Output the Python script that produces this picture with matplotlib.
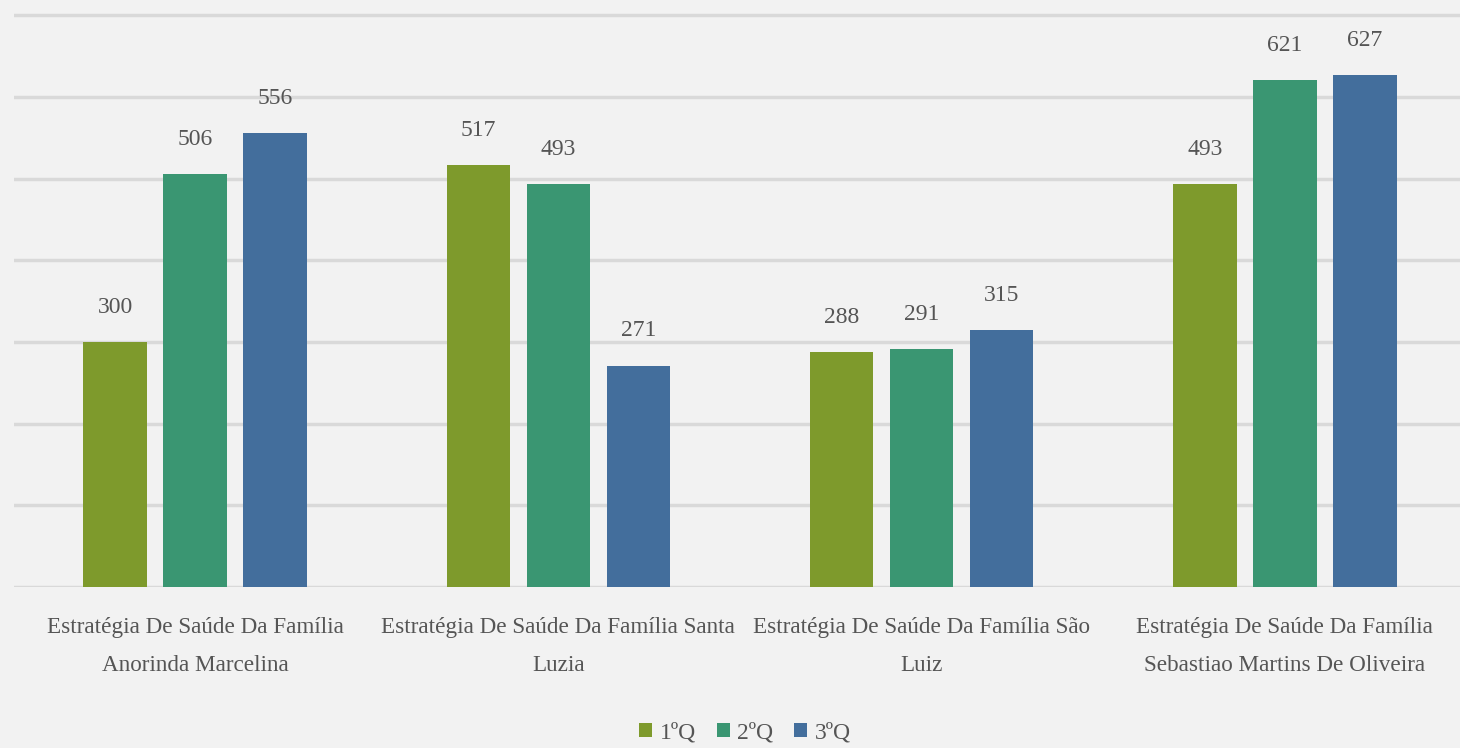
import numpy as np
import matplotlib.pyplot as plt

categories = ["Estratégia De Saúde Da Família\nAnorinda Marcelina",
              "Estratégia De Saúde Da Família Santa\nLuzia",
              "Estratégia De Saúde Da Família São\nLuiz",
              "Estratégia De Saúde Da Família\nSebastiao Martins De Oliveira"]
series = ["1ºQ", "2ºQ", "3ºQ"]
q1 = [300, 517, 288, 493]
q2 = [506, 493, 291, 621]
q3 = [556, 271, 315, 627]
colors = ["#7e9a2c", "#3a9672", "#436e9c"]

plt.rcParams['font.family'] = ['Liberation Serif', 'DejaVu Serif']
txt = "#555555"

fig = plt.figure(figsize=(14.6, 7.48), dpi=100)
fig.patch.set_facecolor("#f2f2f2")
ax = fig.add_axes([13.5/1460, 161/748, 1453/1460, 588/748])
ax.set_facecolor("#f2f2f2")

x = np.arange(len(categories))
step = 0.22
width = 0.175
for i, (vals, name) in enumerate(zip([q1, q2, q3], series)):
    bars = ax.bar(x + (i - 1)*step, vals, width, color=colors[i], label=name, zorder=3)
    for b, v in zip(bars, vals):
        ax.annotate(str(v), (b.get_x() + b.get_width()/2, v), xytext=(0, 25),
                    textcoords="offset points", ha="center", va="center",
                    fontsize=17, color=txt)

ax.set_xlim(-0.5, 3.5)
ax.set_ylim(0, 720)
ax.set_yticks(range(0, 701, 100))
ax.yaxis.grid(True, color="#d9d9d9", linewidth=2.5, zorder=0)
ax.tick_params(axis="y", left=False, labelleft=False)
ax.tick_params(axis="x", bottom=False, pad=18)
ax.set_xticks(x)
ax.set_xticklabels(categories, fontsize=16.7, color=txt, linespacing=2.05)
for s in ax.spines.values():
    s.set_visible(False)

fig.legend(loc="center", bbox_to_anchor=(745/1460, 1 - 733/748), ncol=3,
           frameon=False, fontsize=17, labelcolor=txt, handlelength=0.55,
           handleheight=0.55, handletextpad=0.3, columnspacing=0.9)

fig.savefig("out.png", dpi=100, facecolor=fig.get_facecolor())
